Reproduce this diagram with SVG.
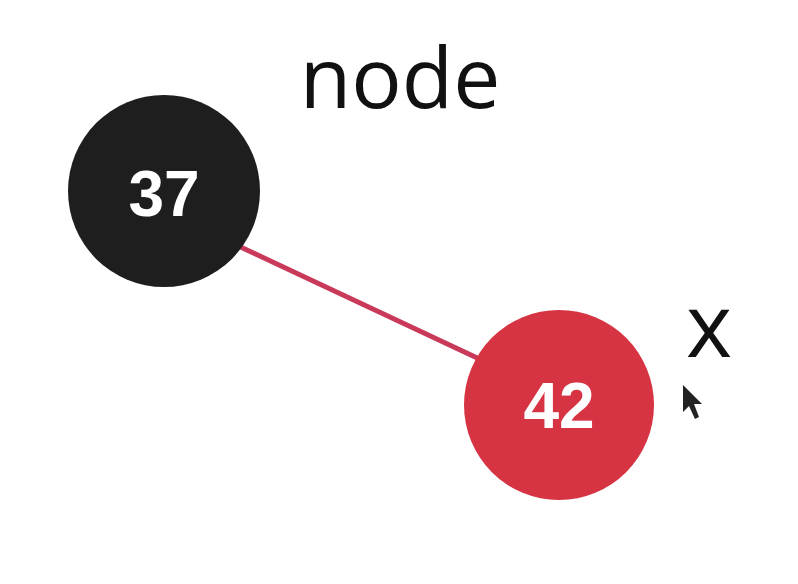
<svg xmlns="http://www.w3.org/2000/svg" width="798" height="584" viewBox="0 0 798 584">
<style>
.num{font-family:"Liberation Sans",Arial,sans-serif;font-weight:bold;font-size:64px;fill:#fff;text-anchor:middle}
.lbl{font-family:"Open Sans","Noto Sans",sans-serif;font-size:84px;fill:#111;text-anchor:middle}
</style>
<rect width="798" height="584" fill="#fff"/>
<g id="connectors">
<line x1="215" y1="235" x2="505" y2="371" stroke="#c93a5a" stroke-width="5"/>
</g>
<g id="node37">
<circle cx="164" cy="191" r="96" fill="#1e1e1e"/>
<text class="num" x="164" y="216">37</text>
</g>
<g id="node42">
<circle cx="559" cy="405" r="95" fill="#d63343"/>
<text class="num" x="559" y="428">42</text>
</g>
<text class="lbl" x="400" y="108">node</text>
<text class="lbl" x="709" y="357" style="font-size:88px">x</text>
<path d="M683 385 L683 412 L689 406 L695 419 L699 417 L694 404 L702 404 Z" fill="#222"/>
</svg>
